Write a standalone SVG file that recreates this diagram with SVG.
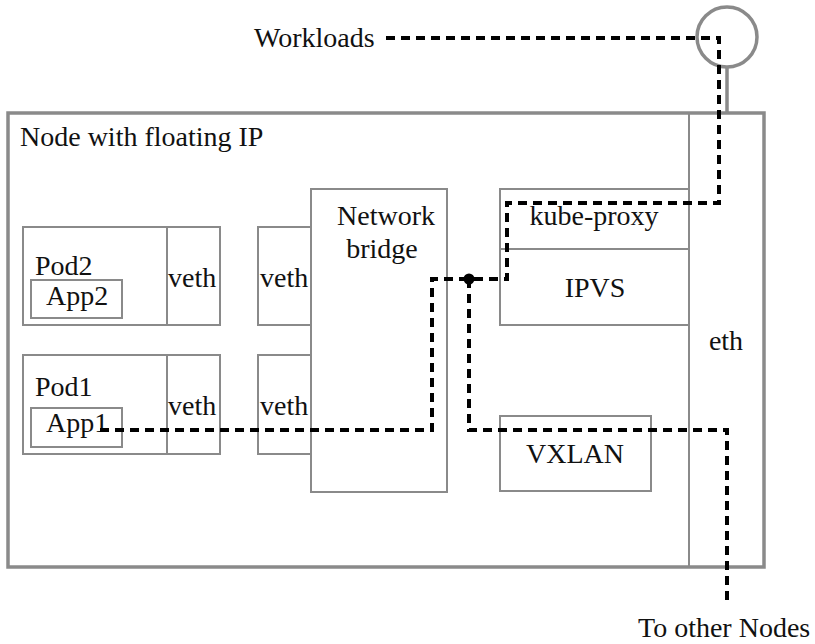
<svg xmlns="http://www.w3.org/2000/svg" width="815" height="644" viewBox="0 0 815 644">
<style>
.box{fill:none;stroke:#8a8a8a;stroke-width:2}
.outer{fill:none;stroke:#8a8a8a;stroke-width:3.5}
.t{font-family:'Liberation Serif','Times New Roman',Times,'DejaVu Serif',serif;font-size:28px;fill:#111}
.c{text-anchor:middle}
.flow{fill:none;stroke:#000;stroke-width:4;stroke-dasharray:9 6}
</style>
<rect width="815" height="644" fill="#fff"/>
<g id="node">
<rect class="outer" x="8" y="113" width="756" height="454"/>
<text class="t" x="20" y="146">Node with floating IP</text>
</g>
<g id="eth">
<rect class="box" x="689" y="113" width="75" height="454"/>
<text class="t c" x="726" y="350">eth</text>
</g>
<g id="floating-ip">
<circle cx="727" cy="37" r="30" fill="none" stroke="#8a8a8a" stroke-width="3.5"/>
<line x1="727" y1="67" x2="727" y2="113" stroke="#8a8a8a" stroke-width="3.5"/>
</g>
<g id="pod2">
<rect class="box" x="23" y="227" width="144" height="98"/>
<text class="t" x="35" y="275">Pod2</text>
</g>
<g id="app2">
<rect class="box" x="31" y="280" width="91" height="38"/>
<text class="t" x="46" y="305">App2</text>
</g>
<g id="veth-pod2">
<rect class="box" x="167" y="227" width="53" height="98"/>
<text class="t" x="168" y="287">veth</text>
</g>
<g id="veth-br2">
<rect class="box" x="258" y="227" width="53" height="98"/>
<text class="t" x="260" y="287">veth</text>
</g>
<g id="pod1">
<rect class="box" x="23" y="355" width="144" height="99"/>
<text class="t" x="35" y="396">Pod1</text>
</g>
<g id="app1">
<rect class="box" x="31" y="408" width="91" height="39"/>
<text class="t" x="46" y="432">App1</text>
</g>
<g id="veth-pod1">
<rect class="box" x="167" y="355" width="53" height="99"/>
<text class="t" x="168" y="415">veth</text>
</g>
<g id="veth-br1">
<rect class="box" x="258" y="355" width="53" height="99"/>
<text class="t" x="260" y="415">veth</text>
</g>
<g id="bridge">
<rect class="box" x="311" y="189" width="136" height="303" fill="#fff"/>
<text class="t c" x="386" y="225">Network</text>
<text class="t c" x="382" y="258">bridge</text>
</g>
<g id="kube-proxy">
<rect class="box" x="500" y="189" width="189" height="60"/>
<text class="t c" x="594" y="225">kube-proxy</text>
</g>
<g id="ipvs">
<rect class="box" x="500" y="249" width="189" height="76"/>
<text class="t c" x="595" y="297">IPVS</text>
</g>
<g id="vxlan">
<rect class="box" x="500" y="416" width="151" height="75"/>
<text class="t c" x="575" y="463">VXLAN</text>
</g>
<g id="labels">
<text class="t" x="254" y="47">Workloads</text>
<text class="t" x="638" y="637">To other Nodes</text>
</g>
<g id="connectors">
<path class="flow" d="M386 38 H719 V203 H507 V279 H432 V430 H95"/>
<path class="flow" d="M469 279 V430 H727 V603"/>
<circle cx="469" cy="279" r="5.5" fill="#000"/>
</g>
</svg>
